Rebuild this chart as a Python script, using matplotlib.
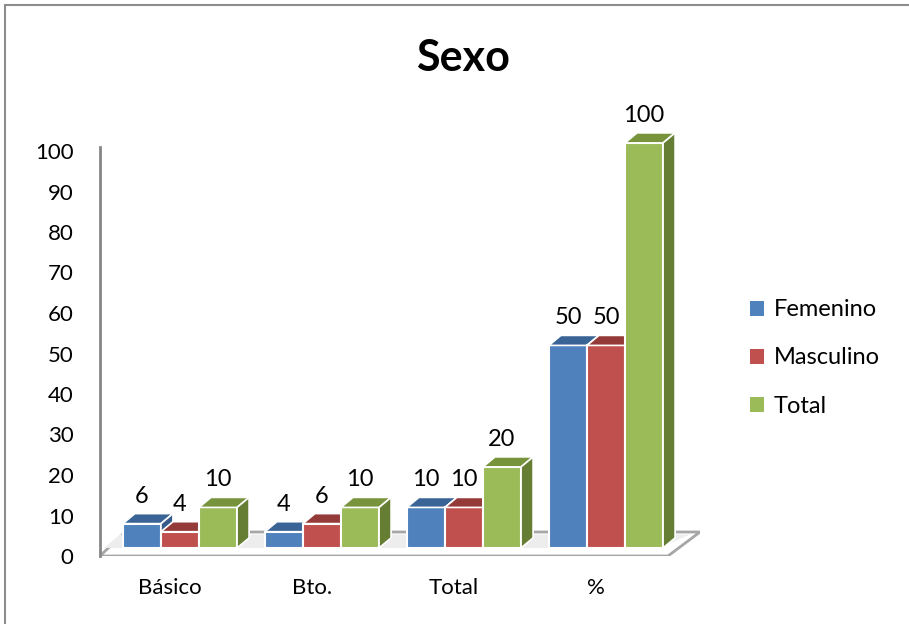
import matplotlib
matplotlib.use("Agg")
import matplotlib.pyplot as plt
from matplotlib.patches import Polygon, Rectangle, Patch
import numpy as np

plt.rcParams['font.family'] = ['Lato', 'DejaVu Sans']

categories = ["Básico", "Bto.", "Total", "%"]
series = ["Femenino", "Masculino", "Total"]
femenino = [6, 4, 10, 50]
masculino = [4, 6, 10, 50]
total = [10, 10, 20, 100]
values = [femenino, masculino, total]

front = ["#4F81BD", "#C0504D", "#9BBB59"]
top_c = ["#3A6496", "#943A38", "#77933C"]
side_c = ["#385D8A", "#8C3836", "#667E33"]

W, H = 909, 624
fig = plt.figure(figsize=(W / 100, H / 100), dpi=100)

# outer chart border
fig.patches.append(Rectangle((5 / W, -0.02), 1.0, (H - 5) / H + 0.02,
                             transform=fig.transFigure, fill=False,
                             edgecolor="#8C8C8C", lw=1.5))

# axes placed so that pixels map onto data units
px_x0, px_x1 = 100, 700
px_y0, px_y1 = 556, 120
ppu_x, ppu_y = 142.0, 4.05
x_left = (px_x0 - 180) / ppu_x
x_right = (px_x1 - 180) / ppu_x
y_top = (px_y0 - px_y1) / ppu_y
ax = fig.add_axes([px_x0 / W, (H - px_y0) / H, (px_x1 - px_x0) / W, (px_y0 - px_y1) / H])
ax.set_xlim(x_left, x_right)
ax.set_ylim(0, y_top)

# floor of the 3d box
fl_back = 24 / ppu_y
floor = Polygon([(x_left, 0), ((668 - 180) / ppu_x, 0),
                 ((700 - 180) / ppu_x, fl_back), ((125 - 180) / ppu_x, fl_back)],
                closed=True, facecolor="white", edgecolor="#A6A6A6", lw=2, zorder=1)
ax.add_patch(floor)
ax.add_patch(Polygon([(x_left + 0.03, 2.0), ((660 - 180) / ppu_x, 2.0),
                      ((690 - 180) / ppu_x, fl_back - 0.6), ((120 - 180) / ppu_x, fl_back - 0.6)],
                     closed=True, facecolor="#EDEDED", edgecolor="none", zorder=1.2))

x = np.arange(len(categories))
bw = 0.268
lift = 2.0
dx, dy = 12 / ppu_x, 10 / ppu_y

for i, (vals, name) in enumerate(zip(values, series)):
    xs = x + (i - 1) * bw
    ax.bar(xs, vals, width=bw, bottom=lift, color=front[i], edgecolor="white",
           lw=1.5, zorder=3 + i)
    for xc, v in zip(xs, vals):
        x0, x1 = xc - bw / 2, xc + bw / 2
        t = lift + v
        ax.add_patch(Polygon([(x0, t), (x1, t), (x1 + dx, t + dy), (x0 + dx, t + dy)],
                             closed=True, facecolor=top_c[i], edgecolor="white",
                             lw=1.2, zorder=3 + i))
        ax.add_patch(Polygon([(x1, lift), (x1, t), (x1 + dx, t + dy), (x1 + dx, lift + dy)],
                             closed=True, facecolor=side_c[i], edgecolor="white",
                             lw=1.2, zorder=3 + i))
        ax.annotate(str(v), (xc, t + dy), xytext=(0, 5),
                    textcoords="offset points", ha="center", va="bottom",
                    fontsize=17, zorder=10)

for s in ["top", "right", "bottom"]:
    ax.spines[s].set_visible(False)
ax.spines["left"].set_color("#868686")
ax.spines["left"].set_linewidth(2)
ax.spines["left"].set_bounds(0, 101)

ax.set_yticks(np.arange(0, 101, 10))
ax.tick_params(axis="y", length=0, pad=19, labelsize=16)
ax.set_xticks(x - 0.07)
ax.set_xticklabels(categories)
ax.tick_params(axis="x", length=0, pad=16, labelsize=16)

fig.text(463 / W, 1 - 58 / H, "Sexo", ha="center", va="center",
         fontsize=31, fontweight="bold")

handles = [Patch(facecolor=c, edgecolor="none") for c in front]
fig.legend(handles, series, loc="center left", bbox_to_anchor=(750 / W, 1 - 358 / H),
           frameon=False, fontsize=17, handlelength=0.6, handleheight=0.6,
           handletextpad=0.4, labelspacing=1.15, borderpad=0, borderaxespad=0)

fig.savefig("out.png", dpi=100)
